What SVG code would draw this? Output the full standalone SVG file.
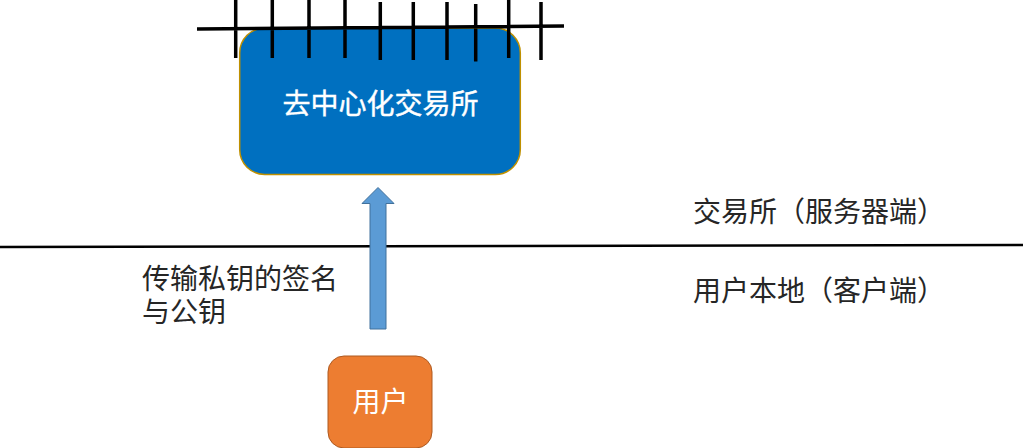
<svg xmlns="http://www.w3.org/2000/svg" width="1024" height="448" viewBox="0 0 1024 448">
<style>
text{font-family:"Noto Sans CJK SC","Liberation Sans",sans-serif;font-size:28px;fill:#262626}
text.w{fill:#fff}
.tick{stroke:#000;stroke-width:3.5;fill:none}
</style>
<rect width="1024" height="448" fill="#fff"/>
<g id="exchange"><rect x="239.700" y="28" width="280.600" height="146.500" rx="25" fill="#0070c0" stroke="#bf9000" stroke-width="1.500"/>
<text class="w" x="380.500" y="114" text-anchor="middle" stroke="#fff" stroke-width="0.400">去中心化交易所</text></g>
<g id="fence" class="tick">
<path d="M197 29L564 26M235.700 0V58M272.300 0V58M309 0V58M345 0V58M380.300 2V60M413.300 2V60M447 2V60M475.700 4V61.500M508.700 0V58M541 2V60"/>
</g>
<g id="connectors">
<path d="M0 247L1023 245" stroke="#000" stroke-width="2.400" fill="none"/>
<path d="M370 329V203.500H362L378 187.500L394 203.500H386V329Z" fill="#5b9bd5" stroke="#41719c"/>
</g>
<g id="user"><rect x="328" y="356" width="104" height="92" rx="16" fill="#ed7d31" stroke="#ae5a21"/>
<text class="w" x="380.500" y="412" text-anchor="middle">用户</text></g>
<g id="labels">
<text x="142" y="289">传输私钥的签名<tspan x="142" y="322">与公钥</tspan></text>
<text x="693" y="222">交易所（服务器端）</text>
<text x="693" y="301">用户本地（客户端）</text>
</g>
</svg>
